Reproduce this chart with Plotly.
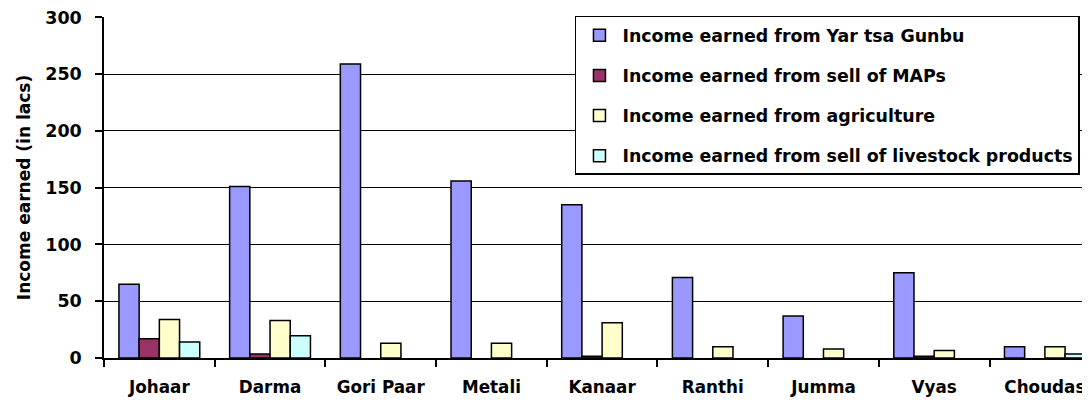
import plotly.graph_objects as go

categories = ["Johaar", "Darma", "Gori Paar", "Metali", "Kanaar", "Ranthi", "Jumma", "Vyas", "Choudas"]
yartsa = [65, 151, 259, 156, 135, 71, 37, 75, 10]
maps = [17, 3.5, None, None, 1.5, None, None, 1.5, None]
agriculture = [34, 33, 13, 13, 31, 10, 8, 6.5, 10]
livestock = [14, 19.5, None, None, None, None, None, None, 3.5]

series = [
    ("Income earned from Yar tsa Gunbu", yartsa, "#9999FF"),
    ("Income earned from sell of MAPs", maps, "#993366"),
    ("Income earned from agriculture", agriculture, "#FFFFCC"),
    ("Income earned from sell of livestock products", livestock, "#CCFFFF"),
]

fig = go.Figure()
for i, (name, vals, col) in enumerate(series):
    fig.add_trace(go.Bar(
        x=categories, y=vals, name=name, legendgroup=f"g{i}",
        marker=dict(color=col, line=dict(color="black", width=1.5)),
    ))

ff = "'DejaVu Sans', sans-serif"
fig.update_layout(
    width=1090, height=404,
    margin=dict(l=96, r=0, t=9, b=54, autoexpand=False),
    paper_bgcolor="white", plot_bgcolor="white",
    barmode="group", bargap=0.27, bargroupgap=0,
    font=dict(family=ff, color="black", size=17),
    showlegend=True,
    legend=dict(
        x=0.4738, y=1.003, xanchor="left", yanchor="top",
        bgcolor="white", bordercolor="black", borderwidth=1.5,
        font=dict(family=ff, size=17.4, color="black", weight="bold"),
        tracegroupgap=14.5, itemwidth=36,
    ),
    xaxis=dict(
        range=[-0.5, 8.48], tickson="boundaries", ticks="outside", ticklen=7,
        tickcolor="black", tickwidth=1.5,
        showline=True, linecolor="black", linewidth=1.5,
        tickfont=dict(family=ff, size=16.8, color="black", weight="bold"),
        ticklabelstandoff=13, ticklabeloverflow="allow",
        showgrid=False, fixedrange=True, automargin=False,
    ),
    yaxis=dict(
        range=[0, 300.4], tickvals=[0, 50, 100, 150, 200, 250, 300],
        ticks="outside", ticklen=7,
        tickcolor="black", tickwidth=1.5,
        showline=True, linecolor="black", linewidth=1.5,
        showgrid=True, gridcolor="black", gridwidth=1.2,
        zeroline=False, automargin=False,
        ticklabelstandoff=10, ticklabeloverflow="allow",
        tickfont=dict(family=ff, size=17.5, color="black", weight="bold"),
        title=dict(text="Income earned (in lacs)", standoff=10,
                   font=dict(family=ff, size=17, color="black", weight="bold")),
    ),
)

fig.write_html("out.html")
